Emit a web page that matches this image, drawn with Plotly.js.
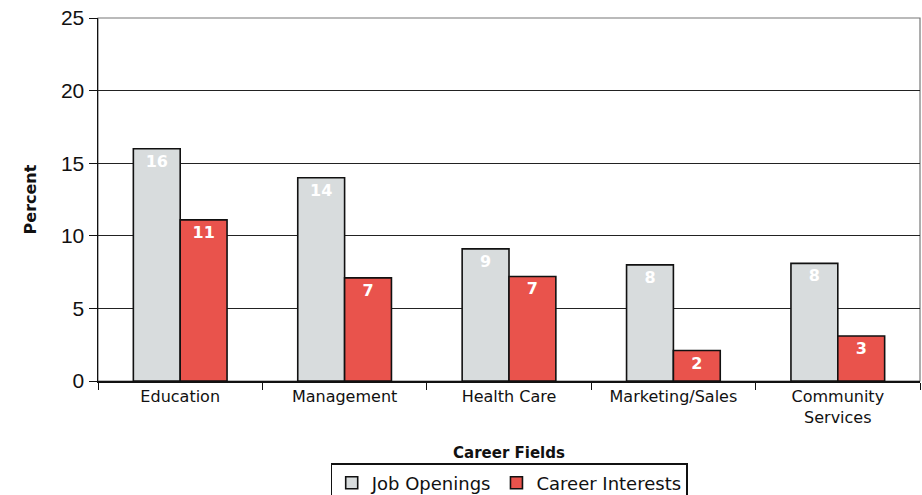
<!DOCTYPE html>
<html>
<head>
<meta charset="utf-8">
<script src="https://cdn.plot.ly/plotly-3.0.1.min.js"></script>
<style>html,body{margin:0;padding:0;background:#fff;overflow:hidden}#chart{width:922px;height:495px}</style>
</head>
<body>
<div id="chart"></div>
<script>
const categories = ["Education", "Management", "Health Care", "Marketing/Sales", "Community<br>Services"];
const jobOpenings = [16, 14, 9.1, 8, 8.1];
const careerInterests = [11.1, 7.1, 7.2, 2.1, 3.1];
const yTicks = [0, 5, 10, 15, 20, 25];

const WIDE = "DejaVu Sans, Verdana, sans-serif";

const common = {
  type: "bar",
  x: categories,
  texttemplate: "%{y:.0f}",
  textposition: "inside",
  insidetextanchor: "end",
  textangle: 0,
  textfont: {family: WIDE, size: 16, color: "#ffffff", weight: "bold"},
  cliponaxis: false,
  hoverinfo: "skip"
};

const traces = [
  Object.assign({}, common, {
    name: "Job Openings",
    y: jobOpenings,
    marker: {color: "#d8dcdd", line: {color: "#111", width: 1.6}}
  }),
  Object.assign({}, common, {
    name: "Career Interests",
    y: careerInterests,
    marker: {color: "#e9534c", line: {color: "#111", width: 1.6}}
  })
];

const layout = {
  width: 922, height: 495,
  margin: {l: 98, r: 2, t: 18, b: 114, autoexpand: false},
  paper_bgcolor: "#fff", plot_bgcolor: "#fff",
  barmode: "group",
  bargap: 0.43,
  bargroupgap: 0,
  font: {family: WIDE, color: "#111"},
  showlegend: true,
  legend: {
    orientation: "h", x: 0.5, xanchor: "center",
    yref: "container", y: 0.064, yanchor: "top",
    bordercolor: "#111", borderwidth: 1.2,
    font: {size: 18, color: "#111"},
    itemwidth: 30, tracegroupgap: 0
  },
  xaxis: {
    automargin: false,
    showline: true, linecolor: "#111", linewidth: 1.5,
    ticks: "outside", ticklen: 7, tickcolor: "#111", tickson: "boundaries",
    tickfont: {size: 16, color: "#111"},
    title: {text: "Career Fields", font: {size: 15, weight: "bold", color: "#111"}, standoff: 22},
    showgrid: false
  },
  yaxis: {
    automargin: false,
    range: [0, 25],
    tickvals: yTicks,
    ticktext: yTicks.map(String),
    showline: true, linecolor: "#111", linewidth: 1.5,
    ticks: "outside", ticklen: 8, tickcolor: "#111",
    tickfont: {family: "Liberation Sans, Arial, sans-serif", size: 21, color: "#111"},
    showgrid: true, gridcolor: "#222", gridwidth: 1.2,
    zeroline: false,
    title: {text: "Percent", font: {size: 16, weight: "bold", color: "#111"}, standoff: 20}
  },
  shapes: [{
    type: "rect", xref: "paper", yref: "paper", x0: 0, x1: 1, y0: 0, y1: 1,
    line: {color: "#777", width: 1.2}, layer: "below"
  }]
};

Plotly.newPlot("chart", traces, layout, {displayModeBar: false, staticPlot: true});
</script>
</body>
</html>
